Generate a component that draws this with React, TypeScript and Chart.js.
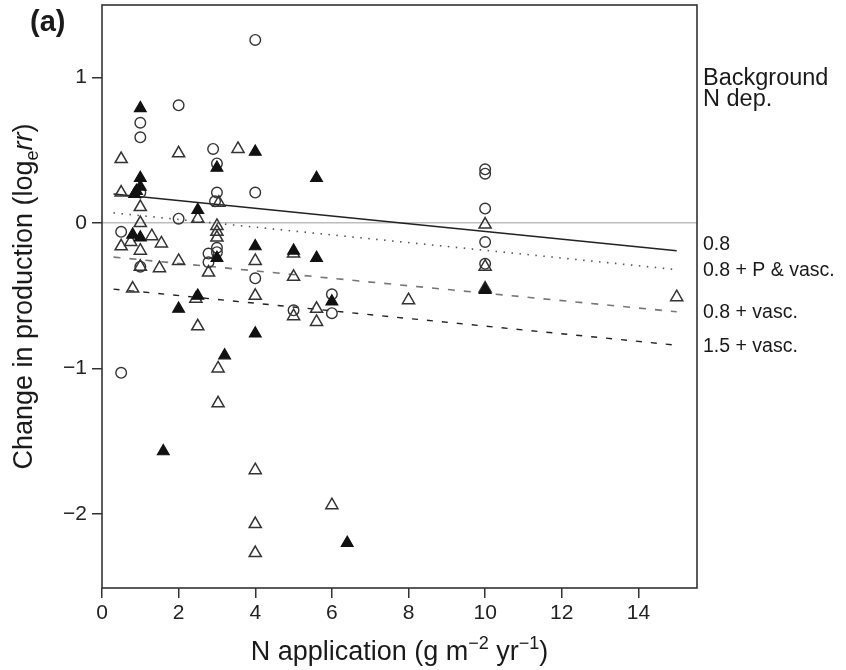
import React, { useEffect, useRef } from "react";
import { Chart, registerables } from "chart.js";

Chart.register(...registerables);

// ---------- data ----------
const xTickValues = [0, 2, 4, 6, 8, 10, 12, 14];
const yTickValues = [-2, -1, 0, 1];

const openCircles: [number, number][] = [
  [4, 1.26], [2, 0.81], [1, 0.69], [1, 0.59], [2.9, 0.51], [3, 0.41], [3, 0.21],
  [4, 0.21], [2.95, 0.15], [1, 0.21], [2, 0.03], [0.5, -0.06], [3, -0.17], [3, -0.2],
  [2.78, -0.21], [2.78, -0.27], [1, -0.3], [4, -0.38], [5, -0.6], [6, -0.49],
  [6, -0.62], [0.5, -1.03], [10, 0.37], [10, 0.34], [10, 0.1], [10, -0.13], [10, -0.28],
];

const openTriangles: [number, number][] = [
  [0.5, 0.44], [2, 0.48], [3.55, 0.51], [0.5, 0.21], [3.05, 0.14], [1, 0.11],
  [2.5, 0.03], [1, 0.0], [3, -0.02], [3, -0.06], [3, -0.1], [1.3, -0.09],
  [0.75, -0.13], [1.55, -0.14], [0.5, -0.16], [1, -0.19], [4, -0.26], [2, -0.26],
  [1, -0.3], [1.5, -0.31], [2.78, -0.34], [5, -0.37], [5, -0.21], [0.8, -0.45],
  [2.45, -0.52], [4, -0.5], [5.6, -0.59], [5, -0.64], [5.6, -0.68], [2.5, -0.71],
  [3.03, -1.0], [3.03, -1.24], [4, -1.7], [4, -2.07], [4, -2.27], [6, -1.94],
  [8, -0.53], [10, -0.01], [10, -0.3], [10, -0.45], [15, -0.51],
];

const filledTriangles: [number, number][] = [
  [1, 0.79], [4, 0.49], [3, 0.38], [1, 0.31], [0.9, 0.22], [1, 0.25], [0.85, 0.2],
  [5.6, 0.31], [2.5, 0.09], [0.8, -0.08], [1, -0.1], [4, -0.16], [3, -0.24],
  [5, -0.19], [5.6, -0.24], [2.5, -0.5], [2, -0.59], [4, -0.76], [3.2, -0.91],
  [1.6, -1.57], [6.4, -2.2], [6, -0.54], [10, -0.46],
];

const fitX = [0.3, 15];
const fitBackground = [0.2, -0.19];      // 0.8 (solid)
const fitPVasc = [0.07, -0.32];          // 0.8 + P & vasc. (dotted)
const fitVasc08 = [-0.234, -0.61];       // 0.8 + vasc. (grey dashed)
const fitVasc15 = [-0.454, -0.84];       // 1.5 + vasc. (black dashed)

const lineLabels = ["0.8", "0.8 + P & vasc.", "0.8 + vasc.", "1.5 + vasc."];
const headerLabels = ["Background", "N dep."];

const FONT = "'Liberation Sans', Arial, Helvetica, sans-serif";

const toPts = (arr: [number, number][]) => arr.map(([x, y]) => ({ x, y }));
const fitPts = (ys: number[]) => fitX.map((x, i) => ({ x, y: ys[i] }));

type Run = { text: string; size: number; style?: string; dy?: number };

function drawRuns(ctx: CanvasRenderingContext2D, runs: Run[], cx: number, y: number) {
  const fontOf = (r: Run) => `${r.style ? r.style + " " : ""}${r.size}px ${FONT}`;
  let total = 0;
  for (const r of runs) {
    ctx.font = fontOf(r);
    total += ctx.measureText(r.text).width;
  }
  let x = cx - total / 2;
  ctx.textAlign = "left";
  ctx.textBaseline = "alphabetic";
  for (const r of runs) {
    ctx.font = fontOf(r);
    ctx.fillText(r.text, x, y + (r.dy || 0));
    x += ctx.measureText(r.text).width;
  }
}

const annotPlugin = {
  id: "annot",
  afterDraw(chart: any) {
    const ctx: CanvasRenderingContext2D = chart.ctx;
    const { left, right, top, bottom } = chart.chartArea;
    ctx.save();
    // frame
    ctx.strokeStyle = "#333";
    ctx.lineWidth = 1.6;
    ctx.strokeRect(left, top, right - left, bottom - top);

    ctx.fillStyle = "#1a1a1a";
    // panel label
    ctx.font = `bold 29px ${FONT}`;
    ctx.textAlign = "left";
    ctx.textBaseline = "middle";
    ctx.fillText("(a)", 30, 23);

    // right-side labels
    ctx.font = `23.5px ${FONT}`;
    ctx.fillText(headerLabels[0], 703, 79);
    ctx.fillText(headerLabels[1], 703, 100);
    ctx.font = `19.5px ${FONT}`;
    const ys = [245, 271, 313, 347];
    lineLabels.forEach((t, i) => ctx.fillText(t, 703, ys[i]));

    // x title
    drawRuns(
      ctx,
      [
        { text: "N application (g m", size: 27 },
        { text: "\u22122", size: 18, dy: -11 },
        { text: " yr", size: 27 },
        { text: "\u22121", size: 18, dy: -11 },
        { text: ")", size: 27 },
      ],
      (left + right) / 2,
      660
    );

    // y title (rotated)
    ctx.save();
    ctx.translate(32, (top + bottom) / 2);
    ctx.rotate(-Math.PI / 2);
    drawRuns(
      ctx,
      [
        { text: "Change in production (log", size: 27 },
        { text: "e", size: 18, dy: 6 },
        { text: "rr", size: 27, style: "italic" },
        { text: ")", size: 27 },
      ],
      0,
      0
    );
    ctx.restore();
    ctx.restore();
  },
};

export default function App() {
  const ref = useRef<HTMLCanvasElement | null>(null);

  useEffect(() => {
    document.body.style.margin = "0";
    const canvas = ref.current;
    if (!canvas) return;

    const chart = new Chart(canvas, {
      type: "scatter",
      data: {
        datasets: [
          {
            label: "filled",
            data: toPts(filledTriangles),
            pointStyle: "triangle",
            pointRadius: 6.8,
            backgroundColor: "#111",
            borderColor: "#111",
            borderWidth: 1.2,
          },
          {
            label: "open triangles",
            data: toPts(openTriangles),
            pointStyle: "triangle",
            pointRadius: 7,
            backgroundColor: "rgba(0,0,0,0)",
            borderColor: "#333",
            borderWidth: 1.5,
          },
          {
            label: "open circles",
            data: toPts(openCircles),
            pointStyle: "circle",
            pointRadius: 5.3,
            backgroundColor: "rgba(0,0,0,0)",
            borderColor: "#333",
            borderWidth: 1.4,
          },
          {
            label: lineLabels[0],
            data: fitPts(fitBackground),
            showLine: true,
            pointRadius: 0,
            borderColor: "#222",
            borderWidth: 1.4,
          },
          {
            label: lineLabels[1],
            data: fitPts(fitPVasc),
            showLine: true,
            pointRadius: 0,
            borderColor: "#555",
            borderWidth: 1.6,
            borderDash: [1.5, 6.5],
          },
          {
            label: lineLabels[2],
            data: fitPts(fitVasc08),
            showLine: true,
            pointRadius: 0,
            borderColor: "#777",
            borderWidth: 1.6,
            borderDash: [7, 9],
          },
          {
            label: lineLabels[3],
            data: fitPts(fitVasc15),
            showLine: true,
            pointRadius: 0,
            borderColor: "#222",
            borderWidth: 1.4,
            borderDash: [6, 9],
          },
        ],
      },
      options: {
        responsive: false,
        animation: false,
        events: [],
        layout: { autoPadding: false, padding: { top: 5, right: 149, left: 0, bottom: 0 } },
        plugins: {
          legend: { display: false },
          tooltip: { enabled: false },
          title: { display: false },
        },
        scales: {
          x: {
            type: "linear",
            min: 0,
            max: 15.53,
            afterBuildTicks: (s: any) => {
              s.ticks = xTickValues.map((v) => ({ value: v }));
            },
            afterFit: (s: any) => {
              s.height = 82;
              s.paddingLeft = 0;
              s.paddingRight = 0;
            },
            grid: {
              color: "rgba(0,0,0,0)",
              tickColor: "#333",
              tickLength: 10,
              lineWidth: 1.5,
            },
            border: { display: false },
            ticks: {
              color: "#222",
              font: { family: FONT, size: 21 },
              padding: 3,
              maxRotation: 0,
              autoSkip: false,
            },
          },
          y: {
            type: "linear",
            min: -2.51,
            max: 1.5,
            afterBuildTicks: (s: any) => {
              s.ticks = yTickValues.map((v) => ({ value: v }));
            },
            afterFit: (s: any) => {
              s.width = 102;
              s.paddingTop = 0;
              s.paddingBottom = 0;
            },
            grid: {
              color: (c: any) => (c.tick && c.tick.value === 0 ? "#bdbdbd" : "rgba(0,0,0,0)"),
              tickColor: "#333",
              tickLength: 10,
              lineWidth: 1.5,
            },
            border: { display: false },
            ticks: {
              color: "#222",
              font: { family: FONT, size: 21 },
              padding: 5,
              autoSkip: false,
              callback: (v: any) => (v < 0 ? "\u2212" + Math.abs(v) : String(v)),
            },
          },
        },
      },
      plugins: [annotPlugin],
    } as any);

    return () => chart.destroy();
  }, []);

  return (
    <div style={{ width: 846, height: 670, background: "#fff" }}>
      <canvas ref={ref} width={846} height={670} style={{ display: "block" }} />
    </div>
  );
}
